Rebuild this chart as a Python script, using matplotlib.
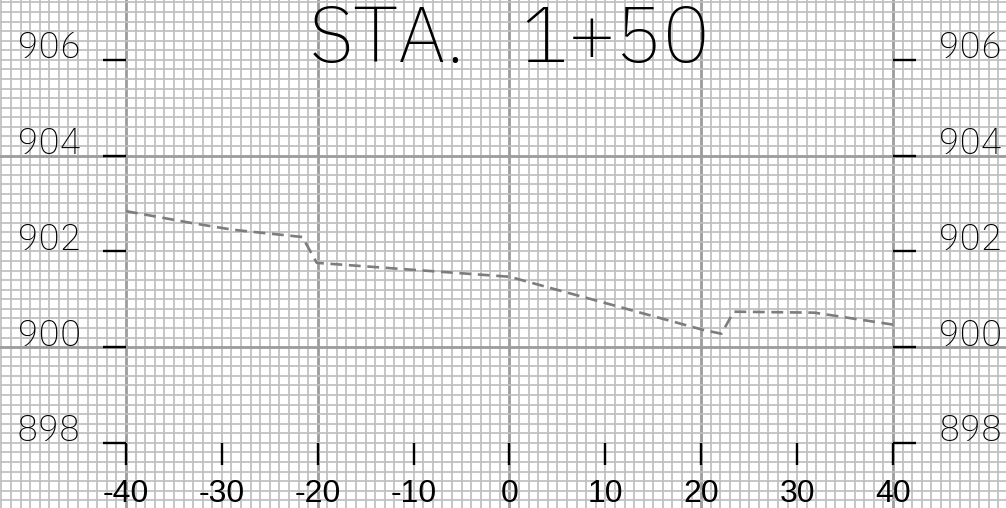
import numpy as np
import matplotlib
matplotlib.use('Agg')
from matplotlib import pyplot as plt

# cross-section data, STA. 1+50
offsets = [-40, -33.1, -28.8, -21.6, -20.1, 0, 20.2, 22.1, 23.4, 31.8, 40]
elevations = [902.84, 902.59, 902.45, 902.30, 901.76, 901.47, 900.36, 900.28, 900.74, 900.72, 900.47]

x_ticks = [-40, -30, -20, -10, 0, 10, 20, 30, 40]
y_ticks = [898, 900, 902, 904, 906]
title = 'STA.   1+50'

x_min, x_max = -53.14, 51.79
y_min, y_max = 896.64, 907.25

thin_font = ['IBM Plex Sans JP', 'IBM Plex Sans Hebrew', 'Open Sans', 'DejaVu Sans']


def main():
    fig = plt.figure(figsize=(10.06, 5.08), dpi=100)
    ax = fig.add_axes([0, 0, 1, 1])
    for s in ax.spines.values():
        s.set_visible(False)

    # grid paper: 1 ft horizontal, 0.2 ft vertical, heavier every 20 ft / 4 ft
    ax.set_xticks(np.arange(-60, 61, 20))
    ax.set_xticks(np.arange(-60, 61, 1), minor=True)
    ax.set_yticks(np.arange(892, 912, 4))
    ax.set_yticks(np.arange(892, 912.01, 0.2), minor=True)
    ax.grid(which='minor', color='#bfbfbf', linewidth=1.25)
    ax.grid(which='major', color='#9c9c9c', linewidth=2.0)
    ax.tick_params(which='both', length=0, labelbottom=False, labelleft=False)
    ax.set_axisbelow(True)

    x0, x1 = x_ticks[0], x_ticks[-1]
    y0 = y_ticks[0]
    tlen_x = 2.4   # ft
    tlen_y = 0.47  # ft
    tick_kw = dict(color='black', linewidth=1.7, solid_capstyle='butt')

    # side ticks and labels
    for e in y_ticks:
        ax.plot([x0 - tlen_x, x0], [e, e], **tick_kw)
        ax.plot([x1, x1 + tlen_x], [e, e], **tick_kw)
        ax.text(x0 - 4.7, e + 0.03, str(e), ha='right', va='baseline',
                fontsize=24.5, family=thin_font, fontweight=200)
        ax.text(x1 + 4.7, e + 0.03, str(e), ha='left', va='baseline',
                fontsize=24.5, family=thin_font, fontweight=200)

    # bottom ticks and labels
    for x in x_ticks:
        ax.plot([x, x], [y0, y0 - tlen_y], **tick_kw)
        ax.text(x, y0 - 1.23, str(x), ha='center', va='baseline', fontsize=23,
                family=['Liberation Sans', 'DejaVu Sans'])

    ax.text(0, 905.96, title, ha='center', va='baseline', fontsize=54,
            family=thin_font, fontweight=200)

    # existing ground line
    ax.plot(offsets, elevations, color='#7d7d7d', linewidth=1.9,
            dashes=(4.5, 2.5), zorder=3)

    ax.set_xlim(x_min, x_max)
    ax.set_ylim(y_min, y_max)

    fig.savefig('out.png', dpi=100)


if __name__ == '__main__':
    main()
